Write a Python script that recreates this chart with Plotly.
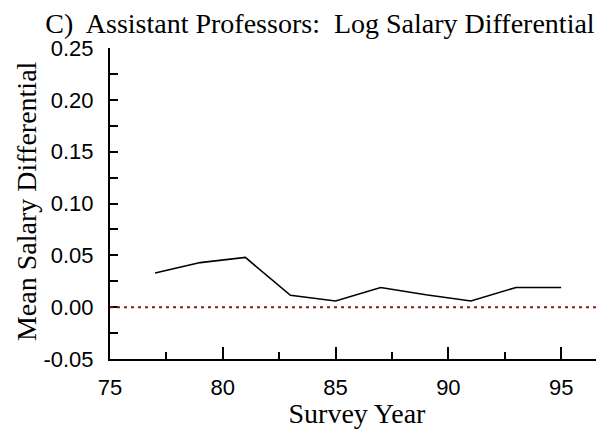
import plotly.graph_objects as go

years = [77, 79, 81, 83, 85, 87, 89, 91, 93, 95]
diff = [0.033, 0.043, 0.048, 0.0115, 0.006, 0.019, 0.012, 0.006, 0.019, 0.019]

x_ticks = [75, 80, 85, 90, 95]
y_ticks = [-0.05, 0.00, 0.05, 0.10, 0.15, 0.20, 0.25]
y_labels = [f"{v:.2f}" for v in y_ticks]

SERIF = "Liberation Serif, Times New Roman, serif"
SANS = "Liberation Sans, Arial, sans-serif"

fig = go.Figure(go.Scatter(
    x=years, y=diff, mode="lines",
    line=dict(color="black", width=1.6),
    showlegend=False,
))

# zero reference line
fig.add_hline(y=0, line=dict(color="#8b1a1a", width=2, dash="3px,4px"))

# y title as an annotation so its position can be set exactly
fig.add_annotation(
    text="Mean Salary Differential", textangle=-90,
    xref="paper", yref="paper", x=-0.17, y=0.508,
    xanchor="center", yanchor="middle", showarrow=False,
    font=dict(family=SERIF, size=28, color="black"),
)

# page body has an 8px margin, so the figure is 8px smaller and shifted
fig.update_layout(
    width=596, height=421,
    margin=dict(l=102, r=0, t=40, b=70),
    paper_bgcolor="white", plot_bgcolor="white",
    title=dict(text="C)  Assistant Professors:  Log Salary Differential",
               font=dict(family=SERIF, size=28, color="black"),
               x=0.5235, xanchor="center", y=0.988, yanchor="top"),
    xaxis=dict(
        range=[75, 96.9], tickvals=x_ticks, showgrid=False, zeroline=False,
        automargin=False,
        showline=True, linecolor="black", linewidth=2,
        ticks="inside", ticklen=12, tickwidth=2, tickcolor="black",
        ticklabelstandoff=8,
        minor=dict(ticks="inside", ticklen=7, tickwidth=2, tickcolor="black",
                   tickvals=[77.5, 82.5, 87.5, 92.5]),
        tickfont=dict(family=SANS, size=22, color="black"),
        title=dict(text="Survey Year", font=dict(family=SERIF, size=28, color="black"),
                   standoff=0),
    ),
    yaxis=dict(
        range=[-0.05, 0.25], tickvals=y_ticks, ticktext=y_labels,
        showgrid=False, zeroline=False, automargin=False,
        showline=True, linecolor="black", linewidth=2,
        ticks="inside", ticklen=8, tickwidth=2, tickcolor="black",
        ticklabelstandoff=10,
        minor=dict(ticks="inside", ticklen=8, tickwidth=2, tickcolor="black",
                   tickvals=[-0.025, 0.025, 0.075, 0.125, 0.175, 0.225]),
        tickfont=dict(family=SANS, size=22, color="black"),
    ),
)

fig.write_html("out.html")
